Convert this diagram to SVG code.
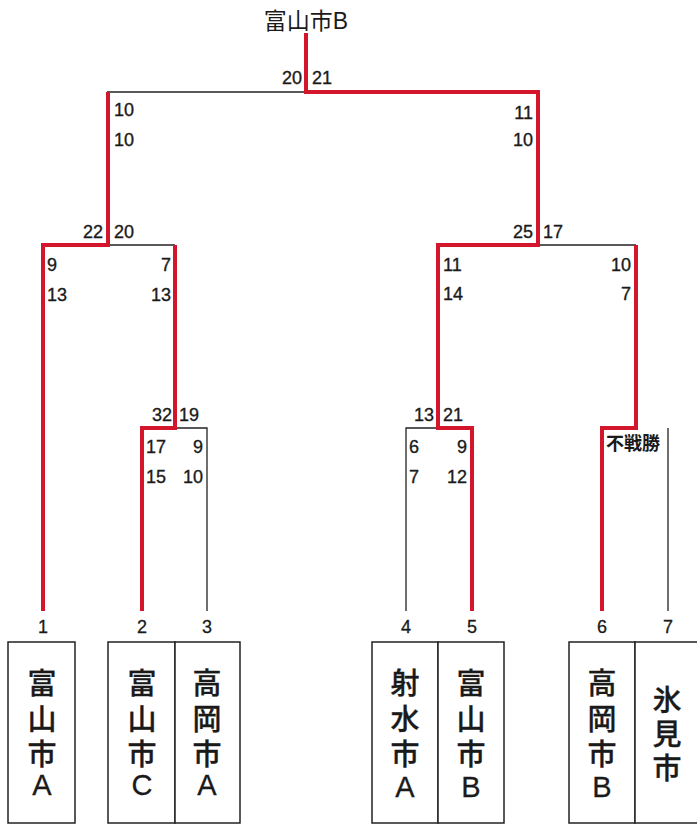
<svg xmlns="http://www.w3.org/2000/svg" width="697" height="826" viewBox="0 0 697 826">
<style>
text{font-family:"Liberation Sans","Noto Sans CJK JP",sans-serif;fill:#1a1a1a}
.red{stroke:#d3162c;stroke-width:4;fill:none;stroke-linejoin:miter;stroke-linecap:butt}
.blk{stroke:#222;stroke-width:1.3;fill:none}
.box{stroke:#222;stroke-width:1.5;fill:#fff}
.sc{font-size:18px;stroke:#1a1a1a;stroke-width:0.35}
.num{font-size:18px;text-anchor:middle;stroke:#1a1a1a;stroke-width:0.3}
.nm{font-size:29px;text-anchor:middle;font-weight:500;stroke:#1a1a1a;stroke-width:0.3}
.end{text-anchor:end}
</style>
<rect width="697" height="826" fill="#fff"/>
<g id="champion">
<text x="306" y="29" font-size="23" text-anchor="middle">富山市B</text>
</g>
<g id="connectors">
<path class="blk" d="M107,92 H306"/>
<path class="blk" d="M108,245 H175"/>
<path class="blk" d="M175,428 H207 V611"/>
<path class="blk" d="M438,428 H406 V611"/>
<path class="blk" d="M538,245 H636"/>
<path class="blk" d="M668,428 V611"/>
<path class="red" d="M306,33 V92 H538 V245 H438 V428 H472 V611"/>
<path class="red" d="M108,92 V245 H43 V611"/>
<path class="red" d="M175,245 V428 H142 V611"/>
<path class="red" d="M636,245 V428 H602 V611"/>
</g>
<g id="scores" class="sc">
<text x="302" y="84" class="end">20</text>
<text x="312" y="84">21</text>
<text x="114" y="116">10</text>
<text x="114" y="146">10</text>
<text x="533" y="119" class="end">11</text>
<text x="533" y="146" class="end">10</text>
<text x="103" y="238" class="end">22</text>
<text x="114" y="238">20</text>
<text x="47" y="271">9</text>
<text x="47" y="301">13</text>
<text x="171" y="271" class="end">7</text>
<text x="171" y="301" class="end">13</text>
<text x="533" y="238" class="end">25</text>
<text x="543" y="238">17</text>
<text x="443" y="271">11</text>
<text x="443" y="300">14</text>
<text x="631" y="271" class="end">10</text>
<text x="631" y="300" class="end">7</text>
<text x="172" y="421" class="end">32</text>
<text x="179" y="421">19</text>
<text x="146" y="453">17</text>
<text x="146" y="483">15</text>
<text x="203" y="453" class="end">9</text>
<text x="203" y="483" class="end">10</text>
<text x="434" y="421" class="end">13</text>
<text x="443" y="421">21</text>
<text x="409" y="453">6</text>
<text x="409" y="483">7</text>
<text x="467" y="453" class="end">9</text>
<text x="467" y="483" class="end">12</text>
<text x="606" y="450" font-size="18" font-weight="bold" stroke-width="0">不戦勝</text>
</g>
<g id="team1">
<text x="43" y="633" class="num">1</text>
<rect class="box" x="8" y="642" width="67" height="181"/>
<text class="nm"><tspan x="42" y="694">富</tspan><tspan x="42" y="730">山</tspan><tspan x="42" y="765">市</tspan><tspan x="42" y="795">A</tspan></text>
</g>
<g id="team2">
<text x="142" y="633" class="num">2</text>
<rect class="box" x="108" y="642" width="67" height="181"/>
<text class="nm"><tspan x="142" y="694">富</tspan><tspan x="142" y="730">山</tspan><tspan x="142" y="765">市</tspan><tspan x="142" y="795">C</tspan></text>
</g>
<g id="team3">
<text x="207" y="633" class="num">3</text>
<rect class="box" x="175" y="642" width="65" height="181"/>
<text class="nm"><tspan x="207" y="694">高</tspan><tspan x="207" y="730">岡</tspan><tspan x="207" y="765">市</tspan><tspan x="207" y="795">A</tspan></text>
</g>
<g id="team4">
<text x="406" y="633" class="num">4</text>
<rect class="box" x="372" y="642" width="66" height="181"/>
<text class="nm"><tspan x="405" y="694">射</tspan><tspan x="405" y="730">水</tspan><tspan x="405" y="765">市</tspan><tspan x="405" y="797">A</tspan></text>
</g>
<g id="team5">
<text x="472" y="633" class="num">5</text>
<rect class="box" x="438" y="642" width="66" height="181"/>
<text class="nm"><tspan x="471" y="694">富</tspan><tspan x="471" y="730">山</tspan><tspan x="471" y="765">市</tspan><tspan x="471" y="797">B</tspan></text>
</g>
<g id="team6">
<text x="602" y="633" class="num">6</text>
<rect class="box" x="569" y="642" width="66" height="181"/>
<text class="nm"><tspan x="602" y="694">高</tspan><tspan x="602" y="730">岡</tspan><tspan x="602" y="765">市</tspan><tspan x="602" y="797">B</tspan></text>
</g>
<g id="team7">
<text x="668" y="633" class="num">7</text>
<rect class="box" x="635" y="642" width="70" height="181"/>
<text class="nm"><tspan x="667" y="711">氷</tspan><tspan x="667" y="745">見</tspan><tspan x="667" y="779">市</tspan></text>
</g>
</svg>
